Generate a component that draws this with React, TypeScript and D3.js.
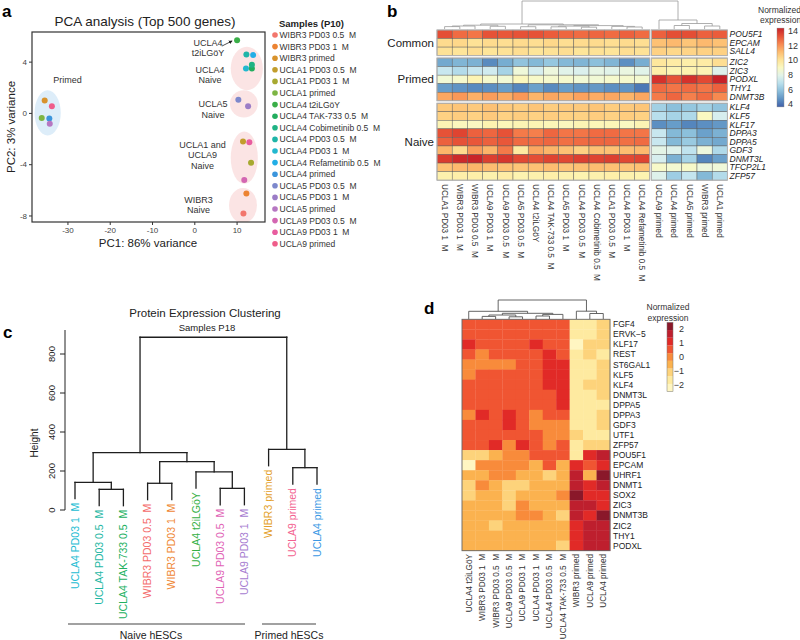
import React from 'react';
import * as d3 from 'd3';

const FONT = "'Liberation Sans', Arial, Helvetica, sans-serif";

// ---------------- Panel a: PCA ----------------
const pcaSamples = [
  'WIBR3 PD03 0.5  M', 'WIBR3 PD03 1  M', 'WIBR3 primed',
  'UCLA1 PD03 0.5  M', 'UCLA1 PD03 1  M', 'UCLA1 primed',
  'UCLA4 t2iLGöY', 'UCLA4 TAK-733 0.5  M', 'UCLA4 Cobimetinib 0.5  M',
  'UCLA4 PD03 0.5  M', 'UCLA4 PD03 1  M', 'UCLA4 Refametinib 0.5  M', 'UCLA4 primed',
  'UCLA5 PD03 0.5  M', 'UCLA5 PD03 1  M', 'UCLA5 primed',
  'UCLA9 PD03 0.5  M', 'UCLA9 PD03 1  M', 'UCLA9 primed',
];
const pcaColors = [
  '#f2766c', '#ec8332', '#d8922c', '#c29d2c', '#a7a930', '#7db543', '#3aae48', '#22ad5e',
  '#1fb384', '#1eb5a8', '#22b8cf', '#22aee6', '#3b95dc', '#7d88cc', '#9b7cc6', '#b677c2',
  '#d366b2', '#e85c9f', '#ef5d8a',
];
const pcaPC1 = [11.5, 12.2, -35.5, 11.4, 13.3, -36.2, 10.0, 13.5, 13.5, 12.2, 12.1, 13.8, -34.4, 10.3, 12.6, -34.3, 11.7, 12.9, -33.8];
const pcaPC2 = [-7.8, -6.25, 1.0, -2.2, -3.85, -0.35, 5.7, 3.5, 3.8, 4.6, 3.5, 4.55, -0.4, 1.07, 0.55, -0.8, -5.2, -2.25, 0.55];
const pcaXTicks = [-30, -20, -10, 0, 10];
const pcaYTicks = [4, 0, -4, -8];
// cluster highlight ellipses (data units)
const clusterCx = [-34.8, 12.3, 11.6, 11.7, 11.4];
const clusterCy = [0.04, 3.5, 0.75, -3.45, -7.18];
const clusterRx = [3.1, 3.8, 3.3, 3.2, 3.3];
const clusterRy = [1.76, 1.69, 1.06, 2.04, 1.37];
const clusterPrimed = [true, false, false, false, false];
// cluster annotation labels (data units)
const annoLines = [['Primed'], ['UCLA4', 'Naive'], ['UCLA5', 'Naive'], ['UCLA1 and', 'UCLA9', 'Naive'], ['WIBR3', 'Naive'], ['UCLA4', 't2iLGöY']];
const annoX = [-30.1, 3.6, 4.3, 1.8, 0.9, 3.1];
const annoY = [2.35, 3.15, 0.47, -2.7, -6.95, 5.28];

function PanelA() {
  const x = d3.scaleLinear().domain([-38.5, 16.6]).range([32, 265]);
  const y = d3.scaleLinear().domain([-8.47, 6.35]).range([222, 32]);
  const [x0, x1] = x.range();
  const [yb, yt] = y.range();
  return (
    <g fontFamily={FONT}>
      <text x={2} y={17} fontSize={17} fontWeight="bold">a</text>
      <text x={145} y={26} fontSize={13.5} textAnchor="middle" fill="#222">PCA analysis (Top 500 genes)</text>
      <defs>
        <clipPath id="pcaClip"><rect x={x0} y={yt} width={x1 - x0} height={yb - yt} /></clipPath>
        <marker id="arr" viewBox="0 0 6 6" refX={5} refY={3} markerWidth={5} markerHeight={5} orient="auto">
          <path d="M0,0 L6,3 L0,6 Z" fill="#222" />
        </marker>
      </defs>
      <g clipPath="url(#pcaClip)">
        {clusterCx.map((cx, i) => (
          <ellipse key={i} cx={x(cx)} cy={y(clusterCy[i])}
            rx={x(cx + clusterRx[i]) - x(cx)} ry={y(clusterCy[i]) - y(clusterCy[i] + clusterRy[i])}
            fill={clusterPrimed[i] ? '#d9ebf8' : '#fbe1e1'} opacity={0.9} />
        ))}
      </g>
      {annoLines.map((lines, i) => (
        <text key={i} x={x(annoX[i])} y={y(annoY[i])} fontSize={9} textAnchor="middle" fill="#333">
          {lines.map((l, k) => <tspan key={k} x={x(annoX[i])} dy={k === 0 ? 0 : 10.3}>{l}</tspan>)}
        </text>
      ))}
      <line x1={x(6.4)} y1={y(5.25)} x2={x(8.8)} y2={y(5.65)} stroke="#222" strokeWidth={0.8} markerEnd="url(#arr)" />
      {pcaPC1.map((v, i) => (
        <circle key={i} cx={x(v)} cy={y(pcaPC2[i])} r={3} fill={pcaColors[i]} />
      ))}
      <rect x={x0} y={yt} width={x1 - x0} height={yb - yt} fill="none" stroke="#333" strokeWidth={1.2} />
      {pcaXTicks.map(t => (
        <g key={t}>
          <line x1={x(t)} x2={x(t)} y1={yb} y2={yb + 3} stroke="#333" />
          <text x={x(t)} y={yb + 11} fontSize={8} textAnchor="middle" fill="#444">{t}</text>
        </g>
      ))}
      {pcaYTicks.map(t => (
        <g key={t}>
          <line x1={x0 - 3} x2={x0} y1={y(t)} y2={y(t)} stroke="#333" />
          <text x={x0 - 5} y={y(t)} dy="0.35em" fontSize={8} textAnchor="end" fill="#444">{t}</text>
        </g>
      ))}
      <text x={148} y={247} fontSize={11.5} textAnchor="middle" fill="#222">PC1: 86% variance</text>
      <text transform="translate(15,127) rotate(-90)" fontSize={11.5} textAnchor="middle" fill="#222">PC2: 3% variance</text>
      <text x={279} y={27} fontSize={9.5} fontWeight="bold" fill="#222">Samples (P10)</text>
      {pcaSamples.map((s, i) => (
        <g key={s}>
          <circle cx={275} cy={35 + i * 11.6} r={2.8} fill={pcaColors[i]} />
          <text x={279.5} y={35 + i * 11.6} dy="0.35em" fontSize={8.5} fill="#333" style={{ whiteSpace: 'pre' }}>{s}</text>
        </g>
      ))}
    </g>
  );
}

// ---------------- Panel b: RNA heatmap ----------------
const bColumns = [
  'UCLA1 PD03 1  M', 'WIBR3 PD03 1  M', 'WIBR3 PD03 0.5  M', 'UCLA9 PD03 1  M', 'UCLA9 PD03 0.5  M',
  'UCLA5 PD03 0.5  M', 'UCLA4 t2iLGöY', 'UCLA4 TAK-733 0.5  M', 'UCLA5 PD03 1  M', 'UCLA4 PD03 0.5  M',
  'UCLA4 Cobimetinib 0.5  M', 'UCLA1 PD03 0.5  M', 'UCLA4 PD03 1  M', 'UCLA4 Refametinib 0.5  M',
  'UCLA9 primed', 'UCLA4 primed', 'UCLA5 primed', 'WIBR3 primed', 'UCLA1 primed',
];
const bNaiveCount = 14;
const bGroups = ['Common', 'Primed', 'Naive'];
const bGenes = ['POU5F1', 'EPCAM', 'SALL4', 'ZIC2', 'ZIC3', 'PODXL', 'THY1', 'DNMT3B', 'KLF4', 'KLF5', 'KLF17', 'DPPA3', 'DPPA5', 'GDF3', 'DNMT3L', 'TFCP2L1', 'ZFP57'];
const bGeneGroup = [0, 0, 0, 1, 1, 1, 1, 1, 2, 2, 2, 2, 2, 2, 2, 2, 2];
const bValues = [
  [13.4, 12.8, 12.6, 13.3, 13.2, 13.3, 13.3, 13.1, 12.9, 12.8, 12.9, 12.8, 13.0, 12.8, 13.0, 13.4, 13.4, 13.0, 13.1],
  [10.3, 10.4, 10.1, 10.3, 10.2, 10.3, 10.2, 10.4, 10.2, 10.3, 10.3, 10.2, 10.3, 10.2, 11.0, 11.2, 10.9, 11.2, 11.0],
  [10.1, 10.0, 10.2, 10.0, 10.1, 10.2, 10.0, 10.1, 10.2, 10.0, 10.1, 10.0, 10.2, 10.1, 10.6, 10.4, 10.5, 10.6, 10.6],
  [5.2, 5.5, 5.4, 4.5, 5.3, 5.9, 5.6, 6.0, 5.6, 5.5, 5.8, 5.5, 4.6, 5.3, 9.9, 9.7, 9.6, 9.7, 10.2],
  [7.2, 6.7, 7.2, 7.4, 6.4, 8.4, 7.6, 8.3, 7.9, 7.7, 8.1, 7.9, 8.2, 7.9, 9.6, 9.3, 9.4, 9.3, 7.8],
  [8.5, 8.7, 9.3, 8.7, 8.5, 9.1, 8.8, 8.7, 8.7, 8.5, 8.5, 8.7, 8.7, 8.6, 14.0, 13.3, 14.0, 13.5, 14.4],
  [4.9, 4.7, 4.5, 4.6, 4.9, 4.4, 5.0, 4.5, 4.9, 4.7, 4.8, 4.6, 4.7, 4.1, 12.8, 12.6, 12.8, 12.6, 13.0],
  [11.6, 11.9, 11.4, 11.8, 11.5, 11.9, 11.3, 11.6, 11.4, 11.7, 11.5, 11.6, 11.3, 11.6, 12.5, 12.9, 12.4, 12.8, 12.2],
  [10.8, 10.9, 10.8, 11.0, 10.8, 10.7, 10.9, 10.7, 10.8, 10.8, 10.9, 10.7, 10.8, 10.9, 6.3, 5.8, 6.0, 6.3, 5.9],
  [10.6, 10.7, 10.6, 10.8, 10.6, 10.7, 10.6, 10.7, 10.6, 10.6, 10.7, 10.6, 10.7, 10.6, 6.8, 6.4, 6.6, 9.0, 7.6],
  [9.3, 9.1, 9.0, 9.4, 9.2, 9.3, 9.3, 9.2, 9.1, 9.3, 9.2, 9.2, 9.0, 9.3, 4.6, 4.9, 4.4, 4.6, 4.8],
  [13.3, 13.6, 13.0, 12.9, 13.3, 12.5, 12.4, 12.9, 12.6, 12.6, 12.8, 12.8, 12.6, 12.6, 7.2, 5.6, 5.8, 5.0, 5.4],
  [13.0, 13.3, 13.2, 13.0, 13.2, 12.8, 12.8, 12.9, 12.7, 12.8, 12.9, 12.9, 12.7, 12.8, 7.2, 5.6, 6.1, 5.4, 5.2],
  [11.3, 10.3, 11.8, 11.3, 12.5, 9.8, 11.6, 11.3, 11.0, 10.6, 11.0, 11.0, 11.1, 11.2, 8.0, 7.8, 7.0, 8.3, 6.6],
  [13.8, 14.2, 14.3, 13.7, 13.9, 13.5, 13.4, 13.6, 13.5, 13.7, 13.6, 13.7, 13.5, 13.6, 7.6, 5.4, 6.4, 4.4, 5.0],
  [11.0, 11.2, 11.3, 11.1, 11.0, 10.9, 11.0, 11.1, 10.9, 11.0, 11.1, 11.0, 10.9, 11.0, 8.8, 8.6, 8.8, 8.3, 8.4],
  [9.5, 9.6, 9.6, 9.5, 9.7, 9.4, 9.5, 9.6, 9.5, 9.4, 9.5, 9.6, 9.5, 9.4, 7.8, 6.2, 7.1, 5.6, 6.7],
];
const bLegendTicks = [14, 12, 10, 8, 6, 4];

type DNode = { c: [DNode | number, DNode | number]; h: number };
const mg = (a: DNode | number, b: DNode | number, h: number): DNode => ({ c: [a, b], h });

const bTree = mg(
  mg(
    mg(mg(mg(0, 1, 2.4), 2, 3.0), mg(3, 4, 2.7), 3.8),
    mg(mg(5, 6, 2.3), mg(mg(mg(7, 8, 2.2), mg(9, 10, 1.8), 2.9), mg(11, mg(12, 13, 2.0), 2.6), 3.4), 4.2),
    5),
  mg(14, mg(mg(15, 16, 3.5), mg(17, 18, 3.0), 5.5), 9),
  28);

type Seg = [number, number, number, number];
function layoutDendro(node: DNode | number, parentH: number, xOf: (i: number) => number,
  leafH: (ph: number) => number, segs: Seg[]): { x: number; h: number } {
  if (typeof node === 'number') return { x: xOf(node), h: leafH(parentH) };
  const a = layoutDendro(node.c[0], node.h, xOf, leafH, segs);
  const b = layoutDendro(node.c[1], node.h, xOf, leafH, segs);
  segs.push([a.x, a.h, a.x, node.h]);
  segs.push([b.x, b.h, b.x, node.h]);
  segs.push([a.x, node.h, b.x, node.h]);
  return { x: (a.x + b.x) / 2, h: node.h };
}

function PanelB() {
  const color = d3.scaleSequential(d3.interpolateRdYlBu).domain([15.25, 2.75]);
  const naiveCols = bColumns.slice(0, bNaiveCount);
  const primedCols = bColumns.slice(bNaiveCount);
  const xL = d3.scaleBand().domain(naiveCols).range([437, 649.8]);
  const xR = d3.scaleBand().domain(primedCols).range([651.4, 727.4]);
  const colX = (j: number) => (j < bNaiveCount ? xL(bColumns[j])! : xR(bColumns[j])!);
  const cw = xL.bandwidth();
  const rowBand = d3.scaleBand().domain(bGenes).range([30, 30 + 17 * 8.55]);
  const gap = 2.4;
  const rowY = (i: number) => rowBand(bGenes[i])! + bGeneGroup[i] * gap;
  const rh = rowBand.bandwidth();
  const segs: Seg[] = [];
  layoutDendro(bTree, 0, j => colX(j) + cw / 2, () => 0, segs);
  const hy = d3.scaleLinear().domain([0, 28]).range([29, 1]);
  const legY = d3.scaleLinear().domain([4, 14]).range([104, 31]);
  const stops = d3.range(0, 11).map(k => 3.6 + k * (14.4 - 3.6) / 10);
  return (
    <g fontFamily={FONT}>
      <text x={387} y={17} fontSize={17} fontWeight="bold">b</text>
      {segs.map((s, i) => (
        <line key={i} x1={s[0]} y1={hy(s[1])} x2={s[2]} y2={hy(s[3])} stroke="#9a9a9a" strokeWidth={0.8} />
      ))}
      {bValues.map((row, i) => row.map((v, j) => (
        <rect key={`${i}-${j}`} x={colX(j)} y={rowY(i)} width={cw} height={rh} fill={color(v)} stroke="#5a5a5a" strokeWidth={0.45} />
      )))}
      {bGroups.map((g, gi) => {
        const idx = bGeneGroup.map((gg, i) => (gg === gi ? i : -1)).filter(i => i >= 0);
        const top = rowY(idx[0]);
        const bottom = rowY(idx[idx.length - 1]) + rh;
        return (
          <g key={g}>
            <rect x={xL.range()[0]} y={top} width={xL.range()[1] - xL.range()[0]} height={bottom - top} fill="none" stroke="#b5b5b5" strokeWidth={1} />
            <rect x={xR.range()[0]} y={top} width={xR.range()[1] - xR.range()[0]} height={bottom - top} fill="none" stroke="#b5b5b5" strokeWidth={1} />
            <text x={434} y={(top + bottom) / 2} dy="0.35em" fontSize={11.5} textAnchor="end" fill="#222">{g}</text>
          </g>
        );
      })}
      {bGenes.map((gname, i) => (
        <text key={gname} x={729.5} y={rowY(i) + rh / 2} dy="0.35em" fontSize={8.5} fontStyle="italic" fill="#222">{gname}</text>
      ))}
      {bColumns.map((c, j) => (
        <text key={c} transform={`translate(${colX(j) + cw / 2},184) rotate(90)`} dy="0.35em" fontSize={8.2} fill="#333" style={{ whiteSpace: 'pre' }}>{c}</text>
      ))}
      <defs>
        <linearGradient id="bGrad" x1="0" y1="1" x2="0" y2="0">
          {stops.map((s, k) => <stop key={k} offset={`${k * 10}%`} stopColor={color(s)} />)}
        </linearGradient>
      </defs>
      <text x={758} y={10} dy="0.35em" fontSize={8.5} fill="#333">Normalized</text>
      <text x={760} y={20} dy="0.35em" fontSize={8.5} fill="#333">expression</text>
      <rect x={777} y={legY(14.4)} width={7} height={legY(3.6) - legY(14.4)} fill="url(#bGrad)" stroke="#888" strokeWidth={0.4} />
      {bLegendTicks.map(t => (
        <text key={t} x={788} y={legY(t)} dy="0.35em" fontSize={9} fill="#333">{t}</text>
      ))}
    </g>
  );
}

// ---------------- Panel c: dendrogram ----------------
const cLeaves = [
  'UCLA4 PD03 1  M', 'UCLA4 PD03 0.5  M', 'UCLA4 TAK-733 0.5  M', 'WIBR3 PD03 0.5  M', 'WIBR3 PD03 1  M',
  'UCLA4 t2iLGöY', 'UCLA9 PD03 0.5  M', 'UCLA9 PD03 1  M', 'WIBR3 primed', 'UCLA9 primed', 'UCLA4 primed',
];
const cLeafColors = ['#22bcd2', '#1fb7a4', '#22b060', '#f46c6c', '#ef8734', '#35b043', '#df63b6', '#a67bd0', '#e49f2a', '#f3618f', '#3b98e4'];
const cTree = mg(
  mg(mg(0, mg(1, 2, 106), 142), mg(mg(3, 4, 137), mg(5, mg(6, 7, 111), 196), 248), 294),
  mg(8, mg(9, 10, 217), 311),
  886);
const cHang = 84;
const cTicks = [0, 200, 400, 600, 800];

function PanelC() {
  const x = d3.scalePoint().domain(cLeaves.map((_, i) => String(i))).range([75, 317]);
  const y = d3.scaleLinear().domain([0, 800]).range([510, 354]);
  const segs: Seg[] = [];
  const leafBottoms: number[] = [];
  const walk = (node: DNode | number, ph: number) => {
    if (typeof node === 'number') { leafBottoms[node] = ph - cHang; return; }
    walk(node.c[0], node.h); walk(node.c[1], node.h);
  };
  walk(cTree, 0);
  layoutDendro(cTree, 0, i => x(String(i))!, ph => ph - cHang, segs);
  return (
    <g fontFamily={FONT}>
      <text x={3} y={338} fontSize={17} fontWeight="bold">c</text>
      <text x={205} y={317} fontSize={11.5} textAnchor="middle" fill="#222">Protein Expression Clustering</text>
      <text x={207} y={331} fontSize={9.5} textAnchor="middle" fill="#222">Samples P18</text>
      <line x1={65} x2={65} y1={330} y2={y(0)} stroke="#222" strokeWidth={1} />
      {cTicks.map(t => (
        <g key={t}>
          <line x1={60} x2={65} y1={y(t)} y2={y(t)} stroke="#222" />
          <text transform={`translate(55,${y(t)}) rotate(-90)`} fontSize={9.5} textAnchor="middle" fill="#222">{t}</text>
        </g>
      ))}
      <text transform="translate(38,443) rotate(-90)" fontSize={10} textAnchor="middle" fill="#222">Height</text>
      {segs.map((s, i) => (
        <line key={i} x1={s[0]} y1={y(s[1])} x2={s[2]} y2={y(s[3])} stroke="#1e1e1e" strokeWidth={1.3} strokeLinecap="square" />
      ))}
      {cLeaves.map((l, i) => (
        <text key={l} transform={`translate(${x(String(i))},${y(leafBottoms[i]) + 4}) rotate(-90)`} dy="0.35em"
          fontSize={10.5} textAnchor="end" fill={cLeafColors[i]} style={{ whiteSpace: 'pre' }}>{l}</text>
      ))}
      <line x1={68} x2={245} y1={624} y2={624} stroke="#444" strokeWidth={1.2} />
      <line x1={262} x2={316} y1={624} y2={624} stroke="#444" strokeWidth={1.2} />
      <text x={151} y={639} fontSize={10.5} textAnchor="middle" fill="#222">Naive hESCs</text>
      <text x={289} y={639} fontSize={10.5} textAnchor="middle" fill="#222">Primed hESCs</text>
    </g>
  );
}

// ---------------- Panel d: protein heatmap ----------------
const dColumns = [
  'UCLA4 t2iLGöY', 'WIBR3 PD03 1  M', 'WIBR3 PD03 0.5  M', 'UCLA9 PD03 0.5  M', 'UCLA9 PD03 1  M',
  'UCLA4 PD03 1  M', 'UCLA4 PD03 0.5  M', 'UCLA4 TAK-733 0.5  M', 'WIBR3 primed', 'UCLA9 primed', 'UCLA4 primed',
];
const dGenes = ['FGF4', 'ERVK−5', 'KLF17', 'REST', 'ST6GAL1', 'KLF5', 'KLF4', 'DNMT3L', 'DPPA5', 'DPPA3', 'GDF3', 'UTF1', 'ZFP57',
  'POU5F1', 'EPCAM', 'UHRF1', 'DNMT1', 'SOX2', 'ZIC3', 'DNMT3B', 'ZIC2', 'THY1', 'PODXL'];
const dValues = [
  [0.55, 0.55, 0.55, 0.55, 0.55, 0.55, 0.55, 0.55, -1.65, -1.65, -1.1],
  [0.55, 0.55, 0.55, 0.55, 0.55, 0.55, 0.55, 0.55, -1.65, -1.65, -1.1],
  [1.1, 0.55, 0.55, 0.55, 0.55, 1.1, 0.55, 0.55, -2.2, -1.1, -1.1],
  [0.55, 0, 0.55, 0.55, 0.55, 0.55, 1.1, 0.55, -1.65, -1.1, -1.65],
  [0, 0, 0, 0, 0.55, 0.55, 1.1, 1.1, -1.65, -1.65, -1.1],
  [0, 0.55, 0.55, 0.55, 0.55, 0.55, 1.1, 1.1, -1.65, -1.65, -1.1],
  [0.55, 0.55, 0.55, 0.55, 0.55, 0.55, 1.1, 1.1, -1.65, -1.1, -1.1],
  [0.55, 0.55, 0.55, 0.55, 0.55, 0.55, 0.55, 1.1, -1.65, -1.65, -1.1],
  [0.55, 0.55, 0.55, 0.55, 0.55, 0.55, 0.55, 1.1, -1.65, -1.65, -1.65],
  [0, 1.1, 0.55, 1.1, 0.55, 0, 0.55, 0.55, -1.65, -1.65, -1.1],
  [0.55, 0.55, 0.55, 1.1, 0.55, 0, 0, 0, -1.65, -1.65, -1.1],
  [0.55, 0.55, 0.55, 0.55, 0.55, 0.55, 0, 0, -1.1, -1.65, -1.65],
  [0.55, 0.55, 1.1, 0, 1.1, 0.55, 0, 0.55, -1.65, -1.1, -1.1],
  [-1.1, -1.1, -0.55, 0, 0, 0.55, 0.55, 0.55, -1.65, 1.1, 1.65],
  [-2.2, 0, 0, 0, 0, -0.55, 0.55, -0.55, 1.1, 0.55, 1.1],
  [-0.55, -0.55, 0, 0, -0.55, -0.55, -1.1, -0.55, 1.65, -0.55, 2.2],
  [-1.1, 0, -0.55, -1.1, -1.1, -0.55, -0.55, -0.55, 1.65, 1.1, 1.65],
  [-1.1, -0.55, -0.55, -1.1, -0.55, -0.55, -0.55, 0, 2.2, 1.1, 1.1],
  [-0.55, -0.55, -0.55, -1.1, 0, -0.55, -0.55, -0.55, 1.65, 1.65, 1.1],
  [-0.55, -0.55, -0.55, -0.55, 0, 0, -0.55, -1.1, 1.65, 1.1, 2.2],
  [-0.55, -0.55, -1.1, -0.55, -0.55, -0.55, -0.55, -0.55, 1.1, 1.65, 1.65],
  [-0.55, -0.55, -0.55, -0.55, -0.55, -0.55, -0.55, -0.55, 1.1, 1.65, 1.65],
  [-0.55, -0.55, -0.55, -0.55, -0.55, -0.55, -0.55, -1.1, 1.1, 1.65, 1.65],
];
const dPalette = ['#fff6c2', '#feeaa0', '#fdd37b', '#fbb24f', '#f88b3b', '#f05532', '#e12a27', '#be1f2e', '#8a182a'];
const dLegendTicks = [2, 1, 0, -1, -2];
const dTree = mg(
  mg(0, mg(mg(mg(1, 2, 2.6), mg(3, 4, 2.2), 4), mg(mg(5, 6, 3), 7, 4.6), 5.7), 7.7),
  mg(8, mg(9, 10, 5.5), 7.8),
  19);

function PanelD() {
  const color = d3.scaleQuantize<string>().domain([-2.475, 2.475]).range(dPalette);
  const x = d3.scaleBand().domain(dColumns).range([462, 610]);
  const y = d3.scaleBand().domain(dGenes).range([319.3, 550.7]);
  const hy = d3.scaleLinear().domain([0, 19]).range([319, 300]);
  const segs: Seg[] = [];
  layoutDendro(dTree, 0, j => x(dColumns[j])! + x.bandwidth() / 2, () => 0, segs);
  const legY = d3.scaleLinear().domain([-2, 2]).range([385, 329]);
  const bins = dPalette.map((c, k) => {
    const [lo, hi] = color.invertExtent(c);
    return { c, y0: legY(hi), y1: legY(lo) };
  });
  return (
    <g fontFamily={FONT}>
      <text x={424} y={314} fontSize={17} fontWeight="bold">d</text>
      {segs.map((s, i) => (
        <line key={i} x1={s[0]} y1={hy(s[1])} x2={s[2]} y2={hy(s[3])} stroke="#555" strokeWidth={0.9} />
      ))}
      {dValues.map((row, i) => row.map((v, j) => (
        <rect key={`${i}-${j}`} x={x(dColumns[j])} y={y(dGenes[i])} width={x.bandwidth() + 0.3} height={y.bandwidth() + 0.3} fill={color(v)} />
      )))}
      <rect x={462} y={319.3} width={148} height={231.4} fill="none" stroke="#666" strokeWidth={0.9} />
      {dGenes.map(g => (
        <text key={g} x={613} y={y(g)! + y.bandwidth() / 2} dy="0.35em" fontSize={8.5} fill="#222">{g}</text>
      ))}
      {dColumns.map(c => (
        <text key={c} transform={`translate(${x(c)! + x.bandwidth() / 2},554) rotate(-90)`} dy="0.35em" fontSize={8.2}
          textAnchor="end" fill="#333" style={{ whiteSpace: 'pre' }}>{c}</text>
      ))}
      <text x={668} y={307} dy="0.35em" fontSize={8.5} textAnchor="middle" fill="#333">Normalized</text>
      <text x={668} y={318} dy="0.35em" fontSize={8.5} textAnchor="middle" fill="#333">expression</text>
      {bins.map(b => (
        <rect key={b.c} x={667} y={b.y0} width={6} height={b.y1 - b.y0} fill={b.c} />
      ))}
      <rect x={667} y={bins[bins.length - 1].y0} width={6} height={bins[0].y1 - bins[bins.length - 1].y0} fill="none" stroke="#777" strokeWidth={0.5} />
      {dLegendTicks.map(t => (
        <text key={t} x={684} y={legY(t)} dy="0.35em" fontSize={9} textAnchor="end" fill="#333">{t < 0 ? `−${-t}` : t}</text>
      ))}
    </g>
  );
}

export default function App() {
  return (
    <svg width={800} height={640} style={{ position: 'absolute', left: 0, top: 0, background: '#fff' }}>
      <rect width={800} height={640} fill="#fff" />
      <PanelA />
      <PanelB />
      <PanelC />
      <PanelD />
    </svg>
  );
}
